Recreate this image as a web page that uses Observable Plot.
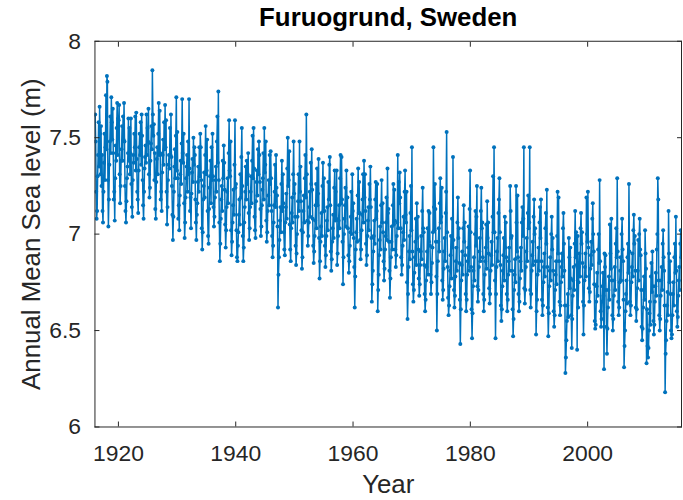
<!DOCTYPE html>
<html><head><meta charset="utf-8">
<script src="https://cdn.jsdelivr.net/npm/d3@7"></script>
<script src="https://cdn.jsdelivr.net/npm/@observablehq/plot@0.6"></script>
<style>
html,body{margin:0;padding:0;background:#fff;overflow:hidden;}
#chart{width:683px;height:500px;overflow:hidden;}
</style></head><body><div id="chart"></div>
<script>
const title = "Furuogrund, Sweden";
const xLabel = "Year";
const yLabel = "Annual Mean Sea level (m)";
const xTicks = [1920, 1940, 1960, 1980, 2000];
const yTicks = [6, 6.5, 7, 7.5, 8];

// monthly sea level in cm, Jan..Dec of each year
const sl1910s = [ // 1916-1919
762,748,722,708,712,730,741,758,735,766,752,731,
756,725,741,712,706,722,737,752,728,745,772,744,
782,779,728,704,718,736,748,761,742,771,758,749,
765,742,718,722,707,729,746,738,755,768,741,760];
const sl1920s = [
759,767,731,716,725,738,744,756,738,761,749,768,
748,725,712,706,717,729,735,742,760,738,755,731,
742,760,726,714,709,728,741,737,752,745,761,733,
763,739,722,718,711,733,745,752,741,758,736,762,
751,728,715,708,722,734,740,746,737,762,741,755,
748,765,731,719,724,738,747,756,744,785,762,751,
757,728,742,713,708,727,739,745,731,752,768,741,
764,742,718,722,712,732,741,749,736,758,744,767,
745,759,722,705,714,728,736,741,734,755,741,762,
740,725,710,697,709,722,735,744,729,751,771,733];
const sl1930s = [
753,729,708,715,702,720,731,738,726,747,770,742,
737,752,716,698,706,719,729,735,741,722,748,731,
770,734,712,719,703,721,732,739,727,750,736,745,
741,718,706,697,710,716,727,735,722,745,730,752,
745,728,703,692,701,718,725,732,719,741,756,731,
733,749,712,699,695,713,724,730,738,716,745,728,
752,730,714,704,709,719,728,735,722,748,761,737,
774,728,706,686,695,708,718,725,712,738,729,746,
737,723,705,693,702,714,722,729,716,742,759,733,
730,748,702,689,696,706,715,723,710,736,759,724];
const sl1940s = [
726,702,688,686,694,701,710,718,705,731,719,740,
755,725,699,686,693,706,714,722,735,718,738,726,
731,742,711,697,703,714,722,730,716,738,751,729,
755,734,709,702,698,717,727,733,720,744,731,748,
741,727,713,699,704,715,723,729,742,718,755,732,
736,748,707,696,701,712,720,728,715,741,726,743,
729,712,699,688,694,706,715,722,736,714,741,724,
720,704,662,679,688,697,707,714,701,726,738,712,
731,716,701,692,689,706,714,721,708,734,750,725,
728,743,705,692,686,703,711,719,706,731,748,721];
const sl1950s = [
726,709,694,684,690,700,709,717,731,712,748,722,
735,717,702,682,688,701,712,720,706,729,741,719,
762,731,707,694,699,706,714,722,709,737,726,744,
723,708,694,685,691,699,707,715,726,703,734,715,
721,739,698,677,686,696,704,711,699,725,737,712,
729,712,694,683,689,699,707,714,702,727,718,736,
740,715,691,681,687,696,703,710,698,724,733,707,
722,708,733,684,690,699,707,715,703,729,741,716,
740,718,696,674,688,700,708,715,724,704,733,719,
719,703,689,680,686,694,701,709,722,700,731,712];
const sl1960s = [
716,698,683,662,678,692,701,708,696,720,734,711,
727,711,697,687,692,702,710,718,731,706,738,719,
731,712,695,684,689,699,707,714,702,726,718,735,
714,698,665,674,681,691,699,707,695,718,727,708,
712,726,660,671,679,689,697,704,692,715,728,706,
716,701,686,676,682,692,699,706,719,697,734,711,
713,696,681,667,677,688,696,704,692,715,726,705,
723,707,692,683,689,699,706,741,703,727,716,732,
719,703,688,679,684,694,701,709,697,722,733,710,
706,722,675,656,669,683,691,699,687,711,725,702];
const sl1970s = [
745,691,674,665,671,680,688,696,708,684,716,698,
709,692,677,668,674,684,691,699,687,712,724,703,
701,684,669,660,666,676,683,691,703,679,712,696,
711,694,679,669,675,685,693,701,745,714,702,726,
713,696,678,650,669,686,696,703,691,716,729,706,
709,724,676,666,671,682,691,698,686,711,722,753,
701,683,667,658,663,673,681,689,699,677,708,693,
740,697,671,662,668,678,686,693,681,706,719,698,
703,685,666,643,661,676,684,691,679,703,715,696,
706,689,669,660,666,679,686,693,704,681,713,733];
const sl1980s = [
701,683,661,646,659,673,681,688,676,700,712,694,
709,725,673,665,671,683,691,698,686,712,724,703,
706,688,669,660,666,679,686,693,705,682,717,698,
706,690,672,664,669,681,689,696,684,709,730,701,
745,701,676,646,669,683,691,698,686,711,718,729,
701,684,663,655,661,673,681,689,698,676,709,693,
706,688,669,660,666,679,686,693,681,725,712,698,
699,681,661,647,656,671,679,687,675,725,706,691,
720,688,669,660,665,677,686,693,681,706,714,699,
708,745,672,664,671,683,691,698,686,711,720,703];
const sl1990s = [
706,745,671,662,669,681,689,696,684,709,718,700,
703,686,648,660,666,679,686,693,681,706,714,698,
718,686,666,658,663,675,683,690,678,703,711,695,
723,683,662,647,659,673,681,688,676,700,709,692,
698,681,660,652,658,671,679,686,674,699,722,690,
719,686,665,658,663,675,683,690,678,703,711,695,
681,663,628,636,645,655,663,669,657,698,688,672,
693,677,658,641,656,668,676,683,671,695,712,688,
701,684,640,699,662,675,683,690,678,703,711,695,
701,685,665,648,663,676,683,690,678,719,700,696];
const sl2000s = [
722,693,672,665,670,682,689,696,684,708,716,700,
691,674,655,651,653,665,673,680,668,692,700,685,
728,686,660,652,656,665,673,680,668,630,690,683,
689,671,652,638,651,662,671,678,666,705,690,682,
708,676,658,650,656,668,676,683,671,695,703,688,
729,691,665,658,662,675,681,688,676,700,708,692,
686,666,631,642,650,660,669,676,664,688,695,680,
726,691,665,658,663,675,683,690,678,702,710,695,
699,681,662,655,661,672,681,697,676,700,708,692,
689,671,652,645,651,662,671,678,666,702,690,682];
const sl2010s = [ // 2010-2015
633,661,642,636,641,650,659,665,653,678,685,670,
691,673,655,648,653,665,673,680,668,692,700,729,
718,676,658,650,656,668,676,683,671,695,702,688,
681,663,618,638,645,655,663,670,658,712,690,675,
686,669,650,646,648,658,669,675,663,688,695,680,
709,681,660,652,657,668,676,683,671,695,702,688];

const blocks = [
  [1916, sl1910s], [1920, sl1920s], [1930, sl1930s], [1940, sl1940s],
  [1950, sl1950s], [1960, sl1960s], [1970, sl1970s], [1980, sl1980s],
  [1990, sl1990s], [2000, sl2000s], [2010, sl2010s]
];
const data = blocks.flatMap(([y0, arr]) =>
  arr.map((cm, i) => ({year: y0 + (i + 0.5) / 12, level: cm / 100})));

const blue = "#0072BD";
const ink = "#262626";

const chart = Plot.plot({
  width: 687,
  height: 500,
  marginLeft: 95,
  marginRight: 2,
  marginTop: 41,
  marginBottom: 71,
  x: {domain: [1916, 2016]},
  y: {domain: [6, 8]},
  style: {fontFamily: "'Liberation Sans', Arial, Helvetica, sans-serif", fontSize: "23px", color: ink, background: "white"},
  marks: [
    Plot.line(data, {x: "year", y: "level", stroke: blue, strokeWidth: 1.5, clip: true}),
    Plot.dot(data, {x: "year", y: "level", fill: blue, r: 2, clip: true}),
    Plot.frame({stroke: ink, strokeWidth: 1}),
    Plot.axisX(xTicks, {anchor: "bottom", tickSize: -5, tickPadding: 23, tickFormat: d => String(d), label: null}),
    Plot.axisX(xTicks, {anchor: "top", tickSize: -5, tickFormat: () => "", label: null}),
    Plot.axisY(yTicks, {anchor: "left", tickSize: -5, tickPadding: 19, tickFormat: d => String(d), label: null}),
    Plot.axisY(yTicks, {anchor: "right", tickSize: -5, tickFormat: () => "", label: null}),
    Plot.text([title], {text: d => d, frameAnchor: "top", dy: -15, lineAnchor: "bottom", fontWeight: "bold", fontSize: 26, fill: "black"}),
    Plot.text([xLabel], {text: d => d, frameAnchor: "bottom", dy: 66, lineAnchor: "bottom", fontSize: 26, fill: ink}),
    Plot.text([yLabel], {text: d => d, frameAnchor: "left", textAnchor: "middle", dx: -55, rotate: -90, lineAnchor: "bottom", fontSize: 26, fill: ink})
  ]
});
document.getElementById("chart").append(chart);
</script></body></html>
